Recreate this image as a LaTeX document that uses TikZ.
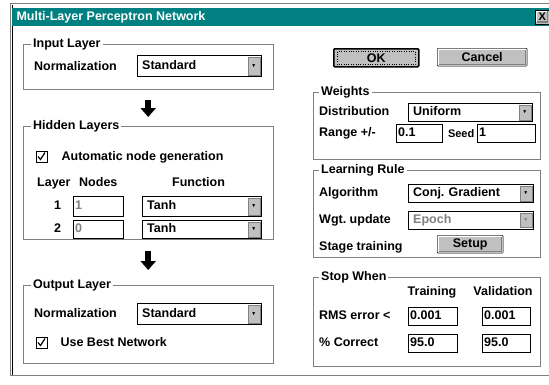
\documentclass[tikz,border=0pt]{standalone}
\usepackage{amssymb}
\usepackage{fontspec}
\setmainfont{Liberation Sans}
\usetikzlibrary{arrows.meta,positioning}
\definecolor{winteal}{RGB}{0,128,128}
\definecolor{winface}{RGB}{192,192,192}
\definecolor{winshade}{RGB}{128,128,128}
\tikzstyle{group} = [draw=winshade, rectangle, anchor=north west, inner sep=0pt]
\tikzstyle{grouptitle} = [fill=white, anchor=west, inner sep=2pt]
\tikzstyle{lbl} = [anchor=west, inner sep=0pt, text height=9pt, text depth=2pt]
\tikzstyle{chkbox} = [draw=black, fill=white, anchor=north west, minimum size=11pt, inner sep=0pt]
\tikzstyle{dropbtn} = [draw=winshade, fill=winface, minimum width=12pt, inner sep=0pt, font=\tiny]
\tikzstyle{winbtn} = [draw=black, fill=winface, anchor=north west, rounded corners=1pt]
\tikzstyle{bigarrow} = [-{Triangle[width=15pt,length=9pt]}, line width=6pt]
\tikzstyle{disabled} = [text=winshade]
\tikzset{combo/.style={draw=black, fill=white, anchor=north west, inner xsep=5pt, text width=#1, align=left, minimum height=21pt, text height=9pt, text depth=2pt}}
\tikzset{field/.style={draw=black, fill=white, anchor=north west, inner xsep=2pt, text width=#1, align=left, minimum height=17pt, text height=9pt, text depth=2pt}}

\begin{document}
\begin{tikzpicture}[x=1pt, y=-1pt, font=\fontsize{12.5}{14}\selectfont\bfseries]
    \useasboundingbox[fill=white] (0,0) rectangle (549,384);
    % Window frame
    \draw[winshade] (549,3) -- (10,3) -- (10,375) -- (549,375);
    \draw[black] (12,5) -- (12,375);
    \node[fill=winteal, anchor=north west, minimum width=537pt, minimum height=18pt, inner sep=0pt] (titlebar) at (12,8) {};
    \node[anchor=west, text=white] (title) at (13,17) {Multi-Layer Perceptron Network};
    \node[winbtn, rounded corners=0pt, minimum width=14pt, minimum height=14pt, inner sep=0pt, font=\fontsize{11}{12}\selectfont\bfseries] (close) at (535,9.5) {X};

    % Input layer
    \node[group, minimum width=250pt, minimum height=45pt] (ingrp) at (23,44) {};
    \node[grouptitle] (intitle) at ([xshift=8pt]ingrp.north west) {Input Layer};
    \node[lbl] (innorm) at (34,67) {Normalization};
    \node[combo=114pt] (incombo) at (137,55) {Standard};
    \node[dropbtn, minimum height=18pt, left=1.5pt of incombo.east] (indrop) {$\blacktriangledown$};

    % Hidden layers
    \node[group, minimum width=250pt, minimum height=113pt] (hidgrp) at (23,126) {};
    \node[grouptitle] (hidtitle) at ([xshift=8pt]hidgrp.north west) {Hidden Layers};
    \node[chkbox] (autobox) at (36,151) {};
    \draw[line width=1.2pt] ([shift={(2pt,-5.5pt)}]autobox.north west) -- ++(2.5pt,-3pt) -- ++(4.5pt,7pt);
    \node[lbl, right=14pt of autobox] (autotext) {Automatic node generation};
    \node[lbl] (layerhd) at (37,183) {Layer};
    \node[lbl] (nodeshd) at (79,183) {Nodes};
    \node[lbl] (funchd) at (172,183) {Function};
    \node[lbl] (row1) at (54,206) {1};
    \node[field=46pt, disabled, minimum height=20pt] (nodes1) at (73,196) {1};
    \node[combo=109pt, minimum height=20pt] (func1) at (142,196) {Tanh};
    \node[dropbtn, minimum height=17pt, left=1.5pt of func1.east] (drop1) {$\blacktriangledown$};
    \node[lbl] (row2) at (54,229) {2};
    \node[field=46pt, disabled, minimum height=18pt] (nodes2) at (73,220) {0};
    \node[combo=109pt, minimum height=18pt] (func2) at (142,220) {Tanh};
    \node[dropbtn, minimum height=15pt, left=1.5pt of func2.east] (drop2) {$\blacktriangledown$};

    % Output layer
    \node[group, minimum width=250pt, minimum height=78pt] (outgrp) at (23,285) {};
    \node[grouptitle] (outtitle) at ([xshift=8pt]outgrp.north west) {Output Layer};
    \node[lbl] (outnorm) at (34,314) {Normalization};
    \node[combo=114pt] (outcombo) at (137,303) {Standard};
    \node[dropbtn, minimum height=18pt, left=1.5pt of outcombo.east] (outdrop) {$\blacktriangledown$};
    \node[chkbox] (bestbox) at (36,337) {};
    \draw[line width=1.2pt] ([shift={(2pt,-5.5pt)}]bestbox.north west) -- ++(2.5pt,-3pt) -- ++(4.5pt,7pt);
    \node[lbl, right=13pt of bestbox] (besttext) {Use Best Network};

    % Flow between layers
    \draw[bigarrow, shorten <=11pt, shorten >=9pt] (ingrp.south) -- (hidgrp.north);
    \draw[bigarrow, shorten <=12pt, shorten >=15pt] (hidgrp.south) -- (outgrp.north);

    % Buttons
    \node[winbtn, line width=1.6pt, minimum width=85pt, minimum height=18pt] (ok) at (333,48) {OK};
    \draw[dotted] ([shift={(4pt,-3.5pt)}]ok.north west) rectangle ([shift={(-4pt,3.5pt)}]ok.south east);
    \node[winbtn, minimum width=90pt, minimum height=18pt] (cancel) at (437,48) {Cancel};

    % Weights
    \node[group, minimum width=227pt, minimum height=67pt] (wgrp) at (313,92) {};
    \node[grouptitle] (wtitle) at ([xshift=6pt]wgrp.north west) {Weights};
    \node[lbl] (distlbl) at (319,112) {Distribution};
    \node[combo=114pt, minimum height=18pt] (distcombo) at (408,103) {Uniform};
    \node[dropbtn, minimum height=15pt, left=1.5pt of distcombo.east] (distdrop) {$\blacktriangledown$};
    \node[lbl] (rangelbl) at (319,133) {Range +/-};
    \node[field=42pt] (rangefld) at (396,124) {0.1};
    \node[field=54pt] (seedfld) at (477,124) {1};
    \node[lbl, font=\fontsize{11}{13}\selectfont\bfseries, left=2.5pt of seedfld, yshift=-1pt] (seedlbl) {Seed};

    % Learning rule
    \node[group, minimum width=227pt, minimum height=87pt] (lrgrp) at (313,170) {};
    \node[grouptitle] (lrtitle) at ([xshift=6pt]lrgrp.north west) {Learning Rule};
    \node[lbl] (alglbl) at (319,193) {Algorithm};
    \node[combo=115pt, minimum height=18pt] (algcombo) at (408,184) {Conj.\ Gradient};
    \node[dropbtn, minimum height=15pt, left=1.5pt of algcombo.east] (algdrop) {$\blacktriangledown$};
    \node[lbl] (updlbl) at (319,220) {Wgt.\ update};
    \node[combo=115pt, minimum height=17pt, disabled] (updcombo) at (408,211) {Epoch};
    \node[dropbtn, minimum height=14pt, disabled, left=1.5pt of updcombo.east] (upddrop) {$\blacktriangledown$};
    \node[lbl] (stagelbl) at (319,247) {Stage training};
    \node[winbtn, minimum width=66pt, minimum height=18pt] (setup) at (437,235) {Setup};

    % Stop when
    \node[group, minimum width=227pt, minimum height=89pt] (stopgrp) at (313,277) {};
    \node[grouptitle] (stoptitle) at ([xshift=6pt]stopgrp.north west) {Stop When};
    \node[inner sep=0pt, text height=9pt, text depth=2pt] (trainhd) at (432,292) {Training};
    \node[inner sep=0pt, text height=9pt, text depth=2pt] (validhd) at (503,292) {Validation};
    \node[lbl] (rmslbl) at (319,316) {RMS error <};
    \node[field=45pt] (rmstrain) at (408,307) {0.001};
    \node[field=44pt] (rmsvalid) at (482,307) {0.001};
    \node[lbl] (pctlbl) at (319,343) {\% Correct};
    \node[field=45pt] (pcttrain) at (408,334) {95.0};
    \node[field=44pt] (pctvalid) at (482,334) {95.0};

    % Button bevels
    \foreach \b in {cancel,setup,close} {
        \draw[white, line width=1pt] ([shift={(1.5pt,1.5pt)}]\b.south west) |- ([shift={(-1.5pt,-1.5pt)}]\b.north east);
        \draw[winshade, line width=1.5pt] ([shift={(1.8pt,1.8pt)}]\b.south west) -| ([shift={(-1.8pt,-1.8pt)}]\b.north east);
    }
\end{tikzpicture}
\end{document}
